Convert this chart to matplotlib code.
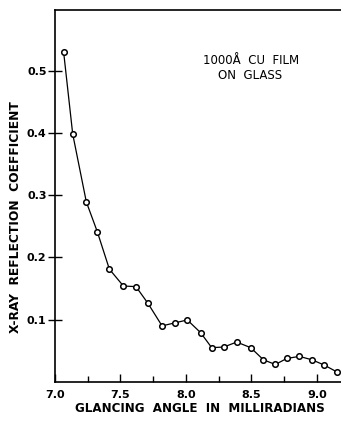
import numpy as np
import matplotlib

matplotlib.use("Agg")
import matplotlib.pyplot as plt
from matplotlib.ticker import MultipleLocator

# values
angle_mrad = [7.067, 7.136, 7.24, 7.324, 7.416, 7.523, 7.619, 7.711, 7.818, 7.92,
              8.011, 8.113, 8.197, 8.289, 8.388, 8.495, 8.592, 8.683, 8.77, 8.866,
              8.963, 9.057, 9.153]
reflection = [0.529, 0.398, 0.289, 0.241, 0.181, 0.154, 0.153, 0.126, 0.090, 0.095,
              0.0995, 0.079, 0.055, 0.056, 0.064, 0.055, 0.0355, 0.028, 0.0376, 0.041,
              0.0355, 0.027, 0.016]
x_ticks = [7.0, 7.5, 8.0, 8.5, 9.0]
x_tick_labels = ["7.0", "7.5", "8.0", "8.5", "9.0"]
y_ticks = [0.1, 0.2, 0.3, 0.4, 0.5]
y_tick_labels = ["0.1", "0.2", "0.3", "0.4", "0.5"]

plt.rcParams['font.family'] = ['DejaVu Sans']

fig = plt.figure(figsize=(3.41, 4.22), dpi=100)
ax = fig.add_axes([0.161, 0.095, 0.845, 0.881])

ax.plot(angle_mrad, reflection, color='black', linewidth=0.9,
        marker='o', markersize=4.0, markerfacecolor='white',
        markeredgecolor='black', markeredgewidth=1.1)

ax.set_xlim(7.02, 9.2)
ax.set_ylim(0, 0.597)

ax.set_xticks(x_ticks)
ax.set_xticklabels(x_tick_labels)
ax.xaxis.set_minor_locator(MultipleLocator(0.25))
ax.set_yticks(y_ticks)
ax.set_yticklabels(y_tick_labels)

ax.tick_params(axis='x', which='major', direction='in', length=6, width=1.0,
               labelsize=8, pad=6)
ax.tick_params(axis='x', which='minor', direction='in', length=4, width=1.0)
ax.tick_params(axis='y', which='major', direction='inout', length=10, width=1.0,
               labelsize=8, pad=1)
for lbl in ax.get_xticklabels() + ax.get_yticklabels():
    lbl.set_fontweight('bold')

ax.spines['right'].set_visible(False)
for s in ['left', 'bottom', 'top']:
    ax.spines[s].set_linewidth(1.2)

ax.text(0.515, 0.806, "1000Å  CU  FILM\n    ON  GLASS", transform=ax.transAxes,
        fontsize=8.5, ha='left', va='bottom', linespacing=1.25)

fig.text(0.585, 0.031, "GLANCING  ANGLE  IN  MILLIRADIANS", ha='center', va='center',
         fontsize=8.6, fontweight='bold')
fig.text(0.044, 0.486, "X-RAY  REFLECTION  COEFFICIENT", ha='center', va='center',
         rotation=90, fontsize=8.8, fontweight='bold')

fig.savefig("out.png", dpi=100)
